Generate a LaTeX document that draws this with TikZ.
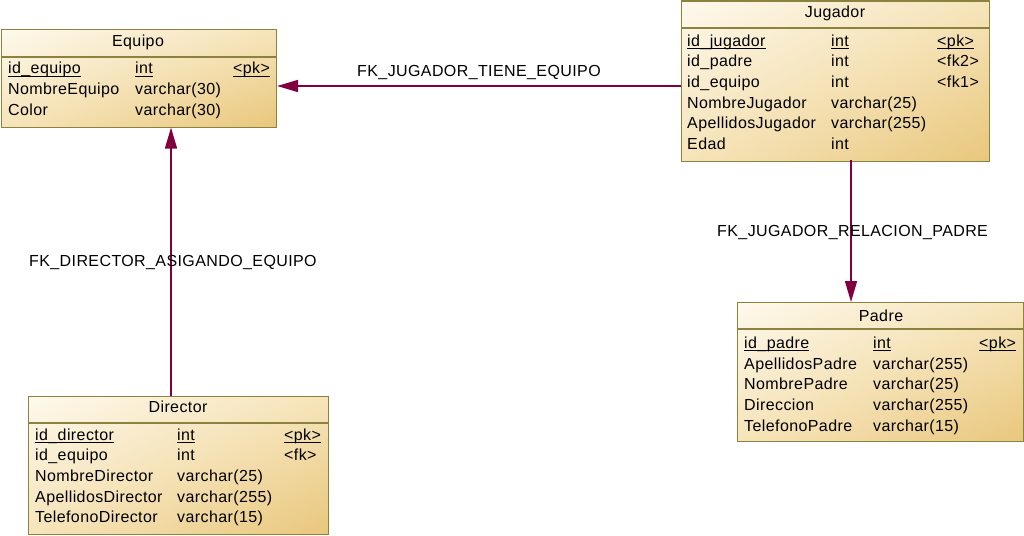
\documentclass[tikz,border=0pt]{standalone}
\usepackage{fontspec}
\usetikzlibrary{arrows.meta,calc,shadings}
\newfontfamily\tabf[LetterSpace=2.5]{Liberation Sans}
\definecolor{bordc}{RGB}{138,130,62}
\definecolor{cA}{RGB}{254,249,236}
\definecolor{cB}{RGB}{246,228,186}
\definecolor{cC}{RGB}{233,199,124}
\definecolor{fkc}{RGB}{128,0,64}
\newcommand\ulx[1]{\setbox0\hbox{#1}\rlap{\rule[-3pt]{\wd0}{0.9pt}}\box0}
\tikzset{
  tbl/.style={draw=bordc, line width=1.1pt, shade, upper left=cA, lower right=cC, upper right=cB, lower left=cB, inner sep=0pt, anchor=north west},
  divl/.style={draw=bordc, line width=1.8pt},
  cell/.style={anchor=base west, inner sep=0pt, font=\tabf\fontsize{16}{19}\selectfont},
  hdr/.style={anchor=base, inner sep=0pt, font=\tabf\fontsize{16}{19}\selectfont},
  fk/.style={draw=fkc, line width=1.6pt, -{Triangle[length=21pt,width=12pt]}},
}
\begin{document}
\begin{tikzpicture}[x=1pt,y=-1pt]
\useasboundingbox (0,0) rectangle (1024,535);
% tables
\node[tbl, minimum width=275.5pt, minimum height=97.5pt] (eq) at (0.5,29) {};
\node[tbl, minimum width=308pt, minimum height=160pt] (jug) at (681,0.5) {};
\node[tbl, minimum width=300pt, minimum height=138pt] (dir) at (28,396) {};
\node[tbl, minimum width=286pt, minimum height=139pt] (pad) at (737,302) {};
% dividers
\draw[divl] ([yshift=-28pt]eq.north west) -- ([yshift=-28pt]eq.north east);
\draw[divl] ([yshift=-27.5pt]jug.north west) -- ([yshift=-27.5pt]jug.north east);
\draw[divl] ([yshift=-27pt]dir.north west) -- ([yshift=-27pt]dir.north east);
\draw[divl] ([yshift=-27pt]pad.north west) -- ([yshift=-27pt]pad.north east);
% Equipo
\node[hdr] (eqh) at (138,46.7) {Equipo};
\node[cell] (eq1a) at (8,74) {\ulx{id\_equipo}};
\node[cell] (eq1b) at (135,74) {\ulx{int}};
\node[cell] (eq1c) at (233,74) {\ulx{<pk>}};
\node[cell] (eq2a) at (8,94.7) {NombreEquipo};
\node[cell] (eq2b) at (135,94.7) {varchar(30)};
\node[cell] (eq3a) at (8,115.4) {Color};
\node[cell] (eq3b) at (135,115.4) {varchar(30)};
% Jugador
\node[hdr] (jugh) at (835,18) {Jugador};
\node[cell] (j1a) at (687,46) {\ulx{id\_jugador}};
\node[cell] (j1b) at (831,46) {\ulx{int}};
\node[cell] (j1c) at (937,46) {\ulx{<pk>}};
\node[cell] (j2a) at (687,66.7) {id\_padre};
\node[cell] (j2b) at (831,66.7) {int};
\node[cell] (j2c) at (937,66.7) {<fk2>};
\node[cell] (j3a) at (687,87.4) {id\_equipo};
\node[cell] (j3b) at (831,87.4) {int};
\node[cell] (j3c) at (937,87.4) {<fk1>};
\node[cell] (j4a) at (687,108.1) {NombreJugador};
\node[cell] (j4b) at (831,108.1) {varchar(25)};
\node[cell] (j5a) at (687,128.8) {ApellidosJugador};
\node[cell] (j5b) at (831,128.8) {varchar(255)};
\node[cell] (j6a) at (687,149.5) {Edad};
\node[cell] (j6b) at (831,149.5) {int};
% Director
\node[hdr] (dirh) at (178,412.7) {Director};
\node[cell] (d1a) at (35,440) {\ulx{id\_director}};
\node[cell] (d1b) at (177,440) {\ulx{int}};
\node[cell] (d1c) at (284,440) {\ulx{<pk>}};
\node[cell] (d2a) at (35,460.7) {id\_equipo};
\node[cell] (d2b) at (177,460.7) {int};
\node[cell] (d2c) at (284,460.7) {<fk>};
\node[cell] (d3a) at (35,481.4) {NombreDirector};
\node[cell] (d3b) at (177,481.4) {varchar(25)};
\node[cell] (d4a) at (35,502.1) {ApellidosDirector};
\node[cell] (d4b) at (177,502.1) {varchar(255)};
\node[cell] (d5a) at (35,522.8) {TelefonoDirector};
\node[cell] (d5b) at (177,522.8) {varchar(15)};
% Padre
\node[hdr] (padh) at (881,321.7) {Padre};
\node[cell] (p1a) at (744,348.3) {\ulx{id\_padre}};
\node[cell] (p1b) at (873,348.3) {\ulx{int}};
\node[cell] (p1c) at (979,348.3) {\ulx{<pk>}};
\node[cell] (p2a) at (744,369) {ApellidosPadre};
\node[cell] (p2b) at (873,369) {varchar(255)};
\node[cell] (p3a) at (744,389.7) {NombrePadre};
\node[cell] (p3b) at (873,389.7) {varchar(25)};
\node[cell] (p4a) at (744,410.4) {Direccion};
\node[cell] (p4b) at (873,410.4) {varchar(255)};
\node[cell] (p5a) at (744,431.1) {TelefonoPadre};
\node[cell] (p5b) at (873,431.1) {varchar(15)};
% connectors
\coordinate (cj) at (681,86);
\coordinate (cd) at (171,396);
\coordinate (cp) at (851,160);
\draw[fk] (cj) -- (cj -| eq.east);
\draw[fk] (cd) -- (cd |- eq.south);
\draw[fk] (cp) -- (cp |- pad.north);
% labels
\node[cell] (l1) at (357,77) {FK\_JUGADOR\_TIENE\_EQUIPO};
\node[cell] (l2) at (29,266) {FK\_DIRECTOR\_ASIGANDO\_EQUIPO};
\node[cell] (l3) at (717,236) {FK\_JUGADOR\_RELACION\_PADRE};
\end{tikzpicture}
\end{document}
